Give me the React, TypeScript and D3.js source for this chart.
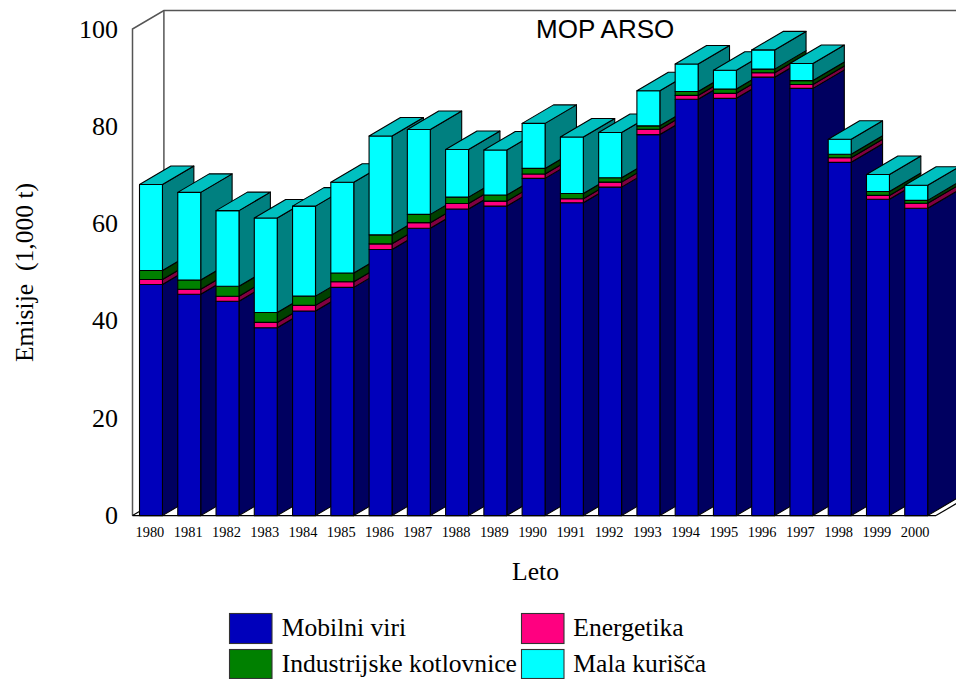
import React from "react";
import * as d3 from "d3";

const years = ["1980","1981","1982","1983","1984","1985","1986","1987","1988","1989","1990","1991","1992","1993","1994","1995","1996","1997","1998","1999","2000"];
const mobilni = [47.5,45.5,44.05,38.6,42.05,46.9,54.7,59.05,63.0,63.6,69.3,64.3,67.5,78.3,85.55,85.75,90.1,87.8,72.6,65.0,63.15];
const energetika = [1.03,1.03,1.03,1.1,1.15,1.15,1.15,1.15,1.15,1.03,0.9,0.8,1.03,1.1,0.8,1.03,0.9,0.8,0.95,0.8,1.03];
const industrijske = [1.85,1.9,2.05,2.05,1.9,1.8,1.85,1.7,1.3,1.25,1.15,1.1,0.9,0.7,0.8,0.9,0.75,0.8,0.7,0.8,0.6];
const malaKurisca = [17.65,18.0,15.55,19.4,18.5,18.65,20.3,17.45,9.8,9.25,9.25,11.6,9.3,7.2,5.65,3.85,3.95,3.5,3.1,3.5,3.1];
const yTicks = [0,20,40,60,80,100];
const seriesKeys = ["m","e","i","k"];
const seriesNames = ["Mobilni viri","Energetika","Industrijske kotlovnice","Mala kurišča"];
const frontColors = ["#0000BB","#FF0080","#008000","#00FFFF"];
const sideColors = ["#000060","#800040","#004000","#008080"];
const topColor = "#00C0C0";
const serif = "'Liberation Serif','Times New Roman',serif";
const sans = "'Liberation Sans',Arial,sans-serif";

const rows = years.map((y,i)=>({y,m:mobilni[i],e:energetika[i],i:industrijske[i],k:malaKurisca[i]}));
const stacked = d3.stack<any>().keys(seriesKeys)(rows);

const left = 132.5, right = 936, y0 = 515.6, y100 = 29;
const dx = 31.4, dy = -18.5;
const x = d3.scaleBand<string>().domain(years).range([left,right]);
const y = d3.scaleLinear().domain([0,100]).range([y0,y100]);
const step = x.step();
const barW = step*0.6;
const barOff = step*0.183;

const poly = (pts:number[][]) => pts.map(p=>p.join(",")).join(" ");

export default function App(){
  const legend = [
    {i:0,lx:229.5,ly:613.5,h:30,tx:281.7,ty:635.7},
    {i:1,lx:521.5,ly:613.5,h:30,tx:573.3,ty:635.7},
    {i:2,lx:229.5,ly:649.5,h:29,tx:281.7,ty:671.7},
    {i:3,lx:521.5,ly:649.5,h:29,tx:573.3,ty:671.7},
  ];
  return (
    <svg width={956} height={679} style={{position:"absolute",left:0,top:0,display:"block",background:"#fff"}}>
      {/* walls */}
      <g fill="none" stroke="#555" strokeWidth={1.5}>
        <polyline points={poly([[left,y0],[left,y100],[left+dx,y100+dy],[right+dx,y100+dy]])}/>
        <line x1={left+dx} y1={y100+dy} x2={left+dx} y2={y0+dy}/>
        <line x1={right+dx} y1={y100+dy} x2={right+dx} y2={y0+dy}/>
      </g>
      <g fill="none" stroke="#000" strokeWidth={1.2}>
        <line x1={left} y1={y0} x2={right} y2={y0}/>
        <line x1={left} y1={y0} x2={left+dx} y2={y0+dy}/>
        <line x1={right} y1={y0} x2={right+dx} y2={y0+dy}/>
      </g>
      {/* bars */}
      {years.map((yr,b)=>{
        const x0 = (x(yr) as number)+barOff;
        const x1 = x0+barW;
        const topY = y(stacked[3][b][1]);
        return (
          <g key={yr} stroke="#000" strokeWidth={1.1} strokeLinejoin="round">
            {stacked.map((s,k)=>{
              const a = y(s[b][0]), t = y(s[b][1]);
              return (
                <g key={k}>
                  <polygon fill={sideColors[k]} points={poly([[x1,a],[x1+dx,a+dy],[x1+dx,t+dy],[x1,t]])}/>
                  <rect x={x0} y={t} width={barW} height={a-t} fill={frontColors[k]}/>
                </g>
              );
            })}
            <polygon fill={topColor} points={poly([[x0,topY],[x0+dx,topY+dy],[x1+dx,topY+dy],[x1,topY]])}/>
          </g>
        );
      })}
      {/* y axis labels */}
      <g fontFamily={serif} fontSize={26} fill="#000" textAnchor="end">
        {yTicks.map(t=><text key={t} x={118} y={y(t)+8.5}>{t}</text>)}
      </g>
      {/* x labels */}
      <g fontFamily={serif} fontSize={14.4} fill="#000" textAnchor="middle">
        {years.map(yr=><text key={yr} x={(x(yr) as number)+step/2-1.7} y={537}>{yr}</text>)}
      </g>
      <text x={535.5} y={580} textAnchor="middle" fontFamily={serif} fontSize={25.6} fill="#000">Leto</text>
      <text transform="translate(33,272.5) rotate(-90)" textAnchor="middle" fontFamily={serif} fontSize={25.6} fill="#000" style={{whiteSpace:"pre"}}>{"Emisije  (1,000 t)"}</text>
      <text x={536} y={38} fontFamily={sans} fontSize={26} fill="#000">MOP ARSO</text>
      {/* legend */}
      {legend.map(l=>(
        <g key={l.i}>
          <rect x={l.lx} y={l.ly} width={42.5} height={l.h} fill={frontColors[l.i]} stroke="#333" strokeWidth={1.1}/>
          <text x={l.tx} y={l.ty} fontFamily={serif} fontSize={25.6} fill="#000">{seriesNames[l.i]}</text>
        </g>
      ))}
    </svg>
  );
}
